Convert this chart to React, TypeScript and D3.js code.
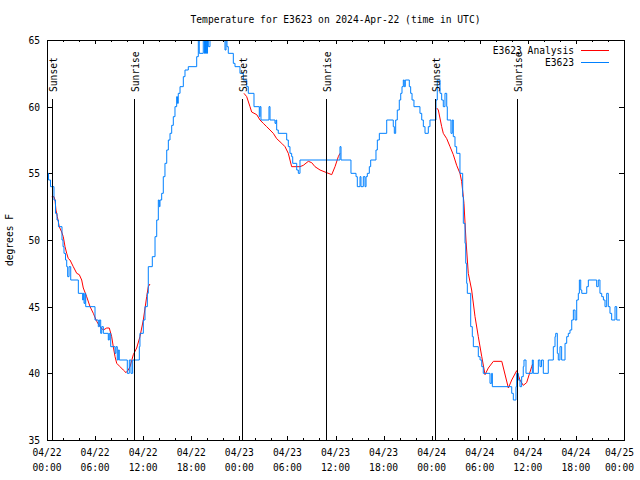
import React from "react";
import * as d3 from "d3";

const TITLE = "Temperature for E3623 on 2024-Apr-22 (time in UTC)";
const Y_LABEL = "degrees F";
const START = Date.UTC(2024, 3, 22, 0, 0);
const END = Date.UTC(2024, 3, 25, 0, 0);

const xTickDates = ["04/22", "04/22", "04/22", "04/22", "04/23", "04/23", "04/23", "04/23", "04/24", "04/24", "04/24", "04/24", "04/25"];
const xTickTimes = ["00:00", "06:00", "12:00", "18:00", "00:00", "06:00", "12:00", "18:00", "00:00", "06:00", "12:00", "18:00", "00:00"];
const yTicks = [35, 40, 45, 50, 55, 60, 65];

const sunHours = [0.59, 10.9, 24.3, 34.85, 48.38, 58.69];
const sunLabels = ["Sunset", "Sunrise", "Sunset", "Sunrise", "Sunset", "Sunrise"];

const seriesNames = ["E3623 Analysis", "E3623"];
const seriesColors = ["#ff0000", "#0080ff"];

// [hours since 2024-04-22 00:00 UTC, degrees F]
const observed: [number, number][] = [
  [0, 55], [0.19, 54.5], [0.44, 54], [0.87, 53], [1.06, 52], [1.25, 51.5], [1.43, 51], [1.87, 50], [2.0, 49.5], [2.12, 49],
  [2.31, 48.5], [2.46, 48], [2.58, 47.25], [2.75, 48], [2.96, 47], [3.91, 46], [4.45, 45.5], [4.53, 46], [4.62, 45.25], [4.74, 46],
  [4.83, 45], [5.99, 44], [6.4, 43.5], [6.53, 44], [6.7, 43], [6.83, 43.5], [7.03, 43], [7.65, 42.5], [7.77, 43], [7.95, 42],
  [8.49, 41.5], [8.61, 42], [8.77, 41], [8.9, 41.75], [9.02, 41], [10.02, 40], [10.27, 41], [10.48, 40], [10.69, 41], [11.52, 42],
  [11.6, 43], [12.02, 44], [12.23, 45], [12.52, 46], [12.64, 48], [13.14, 48.75], [13.48, 50.25], [13.69, 51.5], [13.89, 53], [14.01, 52.5],
  [14.1, 53], [14.31, 53.5], [14.51, 54.75], [14.72, 55.75], [14.94, 56.75], [15.14, 57.5], [15.35, 58], [15.56, 58.6], [15.76, 59.25], [15.97, 60],
  [16.18, 60.75], [16.28, 60.25], [16.38, 61], [16.6, 61.5], [17.01, 62.25], [17.22, 62.75], [17.63, 63], [18.68, 63.75], [18.88, 65], [19.0, 64],
  [19.5, 65], [19.65, 64], [19.78, 65], [19.9, 64], [20.03, 65], [20.13, 64.5], [20.34, 66], [20.96, 66], [21.59, 65.5], [22.0, 65],
  [22.21, 64.25], [22.34, 65], [22.46, 64.5], [22.62, 64], [23.25, 63.25], [23.46, 63], [24.08, 62.5], [24.5, 62], [24.92, 61.5], [25.12, 61],
  [25.83, 60], [26.49, 59.25], [26.58, 60], [26.7, 59], [27.7, 60], [27.83, 59], [28.45, 58.75], [28.58, 59], [28.66, 58.25], [28.86, 58],
  [29.91, 57.5], [30.11, 57], [30.32, 56.5], [30.53, 56.25], [30.66, 55.75], [31.16, 55.25], [31.36, 55], [31.57, 56], [36.56, 57], [36.69, 56],
  [37.93, 55], [38.56, 54.75], [38.72, 54], [39.06, 54.75], [39.18, 54], [39.47, 54.75], [39.68, 54], [39.81, 54.75], [39.97, 55], [40.22, 55.5],
  [40.39, 56], [41.05, 56.75], [41.22, 57.5], [41.47, 58], [42.39, 59], [43.21, 58.5], [43.34, 58], [43.51, 59], [43.71, 59.75], [43.96, 60.5],
  [44.14, 61], [44.3, 61.5], [44.46, 62], [44.58, 61.5], [44.71, 62], [45.21, 61.5], [45.38, 61], [45.55, 60.5], [45.79, 60], [46.54, 59.5],
  [46.76, 59], [46.96, 58.5], [47.17, 58], [47.58, 58.5], [47.79, 59], [48.54, 60.5], [48.7, 62], [49.04, 61], [49.25, 60.5], [49.45, 60],
  [49.66, 61], [49.88, 60], [49.95, 59], [50.41, 58], [50.57, 59], [50.7, 57.75], [50.91, 57], [51.12, 56.5], [51.53, 55], [51.87, 53.25],
  [51.95, 51.25], [52.16, 49.75], [52.25, 48.25], [52.37, 46.75], [52.45, 46], [52.87, 43.5], [53.07, 42.75], [53.2, 42], [53.82, 41.25], [54.04, 41],
  [54.25, 40.5], [54.44, 40], [55.28, 39.25], [55.49, 40], [55.57, 39], [57.99, 38.5], [58.19, 38], [58.52, 39], [58.61, 40], [58.81, 39.5],
  [59.02, 39], [59.23, 39.75], [59.43, 40.5], [59.52, 41], [59.77, 40], [60.56, 41], [60.68, 40], [61.31, 41], [61.52, 40.5], [61.71, 41],
  [61.93, 40], [62.55, 41], [63.18, 42], [63.39, 42.75], [63.48, 43], [63.68, 41.5], [63.8, 41], [64.01, 42], [64.22, 41], [64.64, 42.25],
  [64.85, 42.75], [65.05, 43], [65.26, 43.25], [65.48, 44], [65.68, 44.75], [65.89, 44], [66.1, 45.5], [66.3, 46], [66.43, 47], [66.6, 46.25],
  [66.73, 46], [67.35, 46.5], [67.55, 47], [68.59, 46.5], [68.79, 47], [69.0, 46], [69.22, 45.75], [69.43, 45.5], [69.63, 45], [69.84, 46],
  [70.04, 45], [70.25, 44.5], [70.46, 44], [70.88, 45], [71.09, 44], [71.5, 44],
];

// analysis series; null marks a gap
const analysis: [number, number | null][] = [
  [0.59, 53.25], [0.87, 53.25], [1.0, 53], [1.12, 52.25], [1.29, 51.75], [1.53, 51], [1.83, 50.6], [2.03, 50.25], [2.25, 49.5], [2.46, 49],
  [2.66, 48.6], [2.87, 48.5], [3.28, 48], [3.71, 47.5], [4.03, 47.4], [4.33, 47], [4.53, 46.4], [4.95, 45.75], [5.37, 45], [5.78, 44.5],
  [6.2, 43.9], [6.61, 43.5], [7.03, 43.25], [7.45, 43.4], [7.77, 43.4], [8.07, 42.75], [8.27, 42], [8.49, 41.25], [8.7, 40.75], [9.11, 40.5],
  [9.52, 40.25], [9.86, 40.05], [10.14, 40.25], [10.36, 40.5], [10.77, 41.4], [11.19, 41.9], [11.6, 42.75], [12.02, 44], [12.44, 45.75], [12.64, 46.5],
  [12.85, 46.7], [13.0, null],
  [24.58, 61], [24.92, 60.75], [25.33, 60], [25.54, 59.6], [26.17, 59.4], [26.58, 59], [26.99, 58.75], [27.41, 58.5], [27.83, 58.25], [28.24, 58],
  [28.66, 57.6], [29.29, 57.25], [29.7, 57], [30.11, 56.5], [30.32, 56], [30.53, 55.5], [31.57, 55.5], [31.98, 55.6], [32.61, 55.9], [33.03, 55.8],
  [33.44, 55.5], [34.07, 55.25], [34.69, 55.1], [35.53, 54.9], [35.94, 55.5], [36.35, 56.25], [36.56, 56.5], [36.7, null],
  [48.63, 59.9], [48.83, 59.75], [49.25, 58.5], [49.45, 58], [49.88, 57.6], [50.29, 57], [50.7, 56.4], [51.12, 55.6], [51.53, 55], [51.74, 54.4],
  [51.95, 53.25], [52.03, 52.75], [52.28, 50], [52.57, 47.5], [52.99, 46.25], [53.41, 44.25], [53.82, 42.75], [54.25, 41.25], [54.66, 39.9], [55.07, 40.4],
  [55.7, 40.9], [56.75, 40.9], [57.57, 38.9], [57.99, 39.5], [58.61, 40.2], [59.02, 39.5], [59.43, 39.1], [59.85, 39.3], [60.48, 40.5], [60.6, 40.7],
];

const W = 640;
const H = 480;
const L = 47;
const R = 624;
const T = 40;
const B = 440;
const FONT = "'DejaVu Sans Mono', 'Liberation Mono', monospace";
const CH = 5.8;

const toDate = (h: number) => new Date(START + h * 3600 * 1000);

function Txt(props: any) {
  const { children, ...rest } = props;
  const s = String(children);
  return (
    <text
      fontFamily={FONT}
      fontSize={11}
      fill="#000"
      textLength={s.length * CH}
      lengthAdjust="spacingAndGlyphs"
      {...rest}
    >
      {s}
    </text>
  );
}

export default function App() {
  const x = d3.scaleUtc().domain([new Date(START), new Date(END)]).range([L, R]);
  const y = d3.scaleLinear().domain([35, 65]).range([B, T]);

  const blueLine = d3
    .line<[number, number]>()
    .x((d) => x(toDate(d[0])))
    .y((d) => y(d[1]))
    .curve(d3.curveStepAfter);

  const redLine = d3
    .line<[number, number | null]>()
    .defined((d) => d[1] !== null)
    .x((d) => x(toDate(d[0])))
    .y((d) => y(d[1] as number));

  const hourTicks = d3.range(0, 73, 2);
  const px = (v: number) => Math.round(v) + 0.5;

  return (
    <svg
      width={W}
      height={H}
      viewBox={`0 0 ${W} ${H}`}
      style={{ position: "absolute", left: 0, top: 0, background: "#fff" }}
    >
      <defs>
        <clipPath id="plot">
          <rect x={L} y={T} width={R - L} height={B - T} />
        </clipPath>
      </defs>
      <rect x={0} y={0} width={W} height={H} fill="#fff" />

      <Txt x={(L + R) / 2} y={23} textAnchor="middle">{TITLE}</Txt>

      <g transform={`translate(13,${(T + B) / 2}) rotate(-90)`}>
        <Txt x={0} y={0} textAnchor="middle">{Y_LABEL}</Txt>
      </g>

      {/* ticks */}
      <g stroke="#000" strokeWidth={1} shapeRendering="crispEdges">
        {hourTicks.map((h) => {
          const xx = px(x(toDate(h)));
          const len = h % 6 === 0 ? 4 : 2;
          return (
            <g key={h}>
              <line x1={xx} x2={xx} y1={B} y2={B - len} />
              <line x1={xx} x2={xx} y1={T} y2={T + len} />
            </g>
          );
        })}
        {yTicks.map((v) => {
          const yy = px(y(v));
          return (
            <g key={v}>
              <line x1={L} x2={L + 5} y1={yy} y2={yy} />
              <line x1={R} x2={R - 5} y1={yy} y2={yy} />
            </g>
          );
        })}
      </g>

      {yTicks.map((v) => (
        <Txt key={v} x={40} y={y(v) + 4} textAnchor="end">{String(v)}</Txt>
      ))}
      {xTickDates.map((d, i) => {
        const xx = x(toDate(i * 6));
        const last = i === xTickDates.length - 1;
        return (
          <g key={i}>
            <Txt x={last ? 634 : xx} y={456} textAnchor={last ? "end" : "middle"}>{d}</Txt>
            <Txt x={last ? 634 : xx} y={471} textAnchor={last ? "end" : "middle"}>{xTickTimes[i]}</Txt>
          </g>
        );
      })}

      <g clipPath="url(#plot)">
        <path d={redLine(analysis) || ""} fill="none" stroke={seriesColors[0]} strokeWidth={1} />
        <path d={blueLine(observed) || ""} fill="none" stroke={seriesColors[1]} strokeWidth={1} />
      </g>

      {/* sunrise / sunset markers */}
      {sunHours.map((h, i) => {
        const xx = px(x(toDate(h)));
        return (
          <g key={i}>
            <line x1={xx} x2={xx} y1={99} y2={B} stroke="#000" strokeWidth={1} shapeRendering="crispEdges" />
            <g transform={`translate(${xx + 4},92) rotate(-90)`}>
              <Txt x={0} y={0} textAnchor="start">{sunLabels[i]}</Txt>
            </g>
          </g>
        );
      })}

      {/* legend */}
      {seriesNames.map((n, i) => {
        const yy = 50 + i * 12;
        return (
          <g key={n}>
            <Txt x={574} y={yy + 4} textAnchor="end">{n}</Txt>
            <line x1={581} x2={609} y1={px(yy)} y2={px(yy)} stroke={seriesColors[i]} strokeWidth={1} shapeRendering="crispEdges" />
          </g>
        );
      })}

      <rect
        x={L + 0.5}
        y={T + 0.5}
        width={R - L}
        height={B - T}
        fill="none"
        stroke="#000"
        strokeWidth={1}
        shapeRendering="crispEdges"
      />
    </svg>
  );
}
